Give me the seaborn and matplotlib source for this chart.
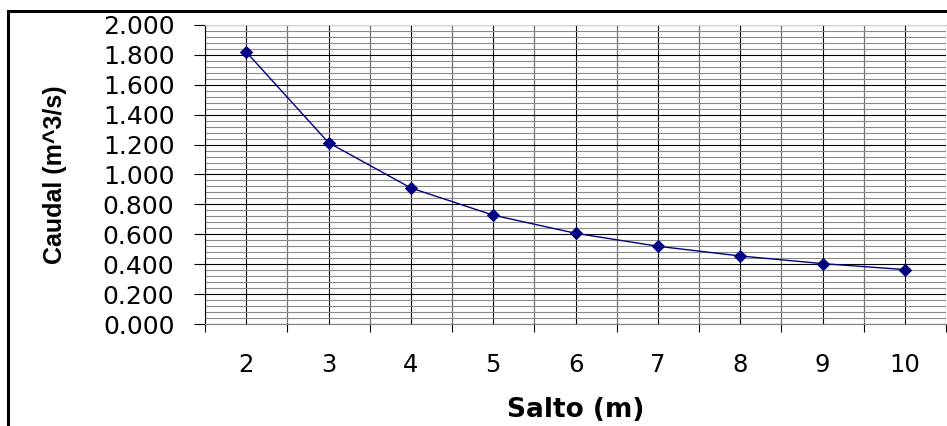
import matplotlib
matplotlib.use("Agg")
import matplotlib.pyplot as plt
import matplotlib.patches as mpatches
from matplotlib.ticker import MultipleLocator, FixedLocator, FuncFormatter
import seaborn as sns
import pandas as pd

# Data
salto = ["2", "3", "4", "5", "6", "7", "8", "9", "10"]
caudal = [1.820, 1.213, 0.910, 0.728, 0.607, 0.520, 0.455, 0.404, 0.364]
x_label = "Salto (m)"
y_label = "Caudal (m^3/s)"

df = pd.DataFrame({"Salto": salto, "Caudal": caudal})

sns.set_style("white")
plt.rcParams["font.family"] = ["DejaVu Sans"]
plt.rcParams["text.color"] = "black"
plt.rcParams["axes.labelcolor"] = "black"
plt.rcParams["xtick.color"] = "black"
plt.rcParams["ytick.color"] = "black"

fig = plt.figure(figsize=(9.47, 4.26), dpi=100)
ax = fig.add_axes([205 / 947, 1 - 324 / 426, 741 / 947, 299 / 426])

sns.lineplot(data=df, x="Salto", y="Caudal", ax=ax, color="#000080",
             marker="D", markersize=6.5, markeredgecolor="#000080",
             linewidth=1.0, sort=False, zorder=5)

ax.set_xlim(-0.5, len(salto) - 0.5)
ax.set_ylim(0, 2.0)

# y axis
ax.yaxis.set_major_locator(MultipleLocator(0.2))
ax.yaxis.set_minor_locator(MultipleLocator(0.04))
ax.yaxis.set_major_formatter(FuncFormatter(lambda v, p: f"{v:.3f}"))
ax.tick_params(axis="y", which="major", direction="out", length=8, width=0.8,
               color="black", labelsize=18, pad=14, left=True,
               labelcolor="black")
ax.tick_params(axis="y", which="minor", length=0)

# x axis: labels at category centers, ticks at boundaries
ax.xaxis.set_major_locator(FixedLocator(range(len(salto))))
ax.xaxis.set_minor_locator(FixedLocator([i - 0.5 for i in range(len(salto) + 1)]))
ax.tick_params(axis="x", which="major", length=0, labelsize=17.5, pad=21,
               labelcolor="black")
ax.tick_params(axis="x", which="minor", direction="out", length=6, width=0.8,
               color="black", bottom=True)

# grid
ax.grid(True, axis="y", which="major", color="black", linewidth=0.8)
ax.grid(True, axis="y", which="minor", color="#8a8a8a", linewidth=0.8)
ax.grid(True, axis="x", which="major", color="black", linewidth=0.8)
ax.grid(True, axis="x", which="minor", color="#707070", linewidth=0.9)
ax.set_axisbelow(True)

ax.spines["right"].set_visible(False)
ax.spines["top"].set_color("#d0d0d0")
ax.spines["left"].set_color("black")
ax.spines["left"].set_linewidth(0.8)
ax.spines["bottom"].set_color("#808080")
ax.spines["bottom"].set_linewidth(0.8)

ax.set_xlabel(x_label, fontsize=19, fontweight="bold", labelpad=14,
              fontfamily=["DejaVu Sans"], color="black")
ax.set_ylabel(y_label, fontsize=18, fontweight="bold", labelpad=26,
              fontfamily=["Liberation Sans", "DejaVu Sans"], color="black")

# outer chart border (left and top visible)
border = mpatches.Rectangle((8 / 947, -0.2), 1.2, (1 - 11 / 426) + 0.2,
                            transform=fig.transFigure, fill=False,
                            edgecolor="black", linewidth=2.2, clip_on=False)
fig.patches.append(border)

fig.savefig("out.png", dpi=100)
